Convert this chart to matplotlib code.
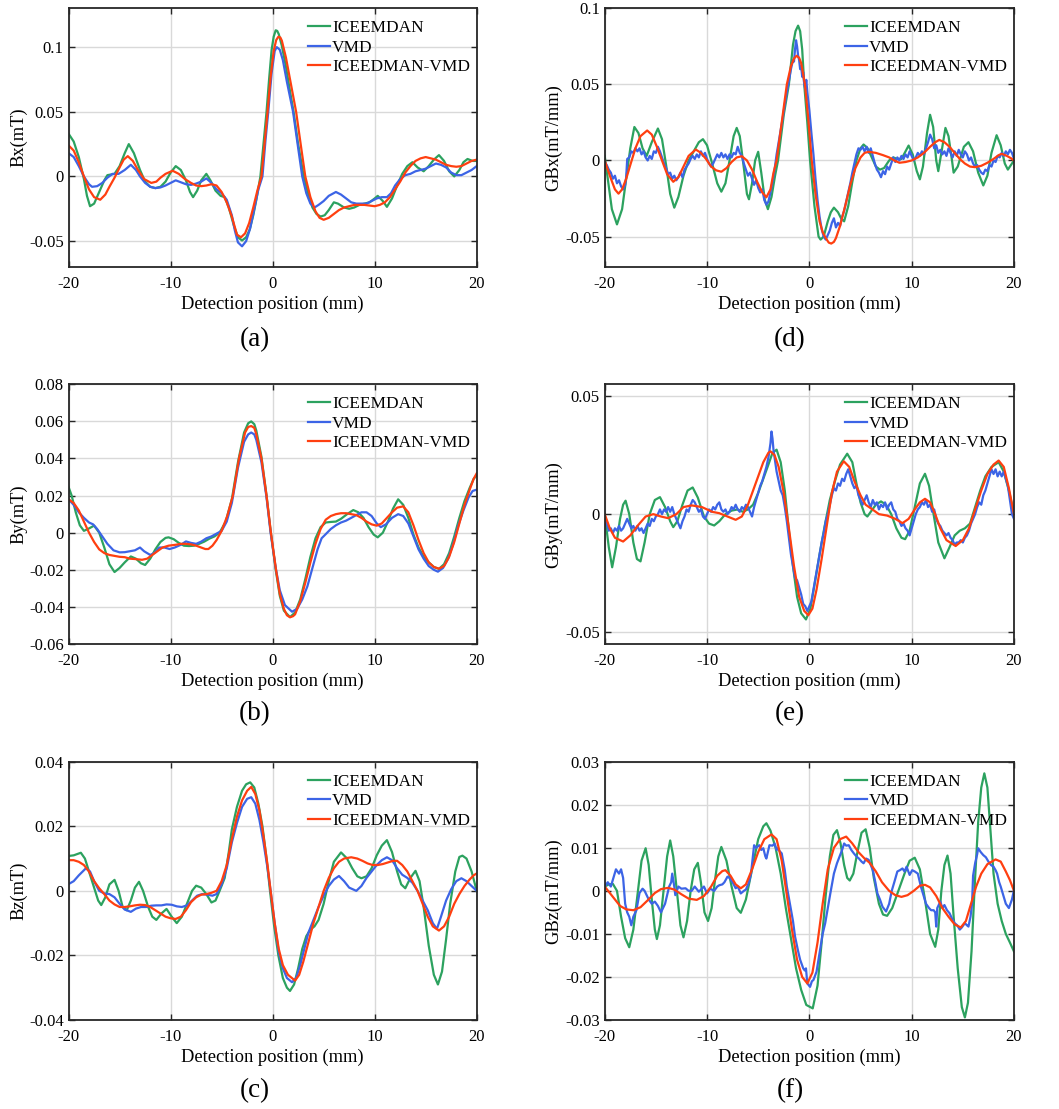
import matplotlib.pyplot as plt
import numpy as np
from matplotlib.ticker import FuncFormatter

plt.rcParams['font.family'] = ['Liberation Serif', 'DejaVu Serif']
plt.rcParams['axes.unicode_minus'] = False

names = ['ICEEMDAN', 'VMD', 'ICEEDMAN-VMD']
colors = ['#2ca25f', '#3c64e6', '#ff3f10']

# ---------------- (a) Bx ----------------
a_ice = [(-20, 0.033), (-19.5, 0.027), (-19, 0.015), (-18.5, -0.002), (-18.2, -0.015), (-17.9, -0.023),
         (-17.5, -0.021), (-17, -0.012), (-16.5, -0.003), (-16.2, 0.001), (-15.5, 0.002), (-15, 0.008),
         (-14.5, 0.018), (-14.1, 0.025), (-13.6, 0.018), (-13, 0.005), (-12.5, -0.004), (-12, -0.008),
         (-11.5, -0.009), (-11, -0.008), (-10.5, -0.004), (-10, 0.003), (-9.5, 0.008), (-9, 0.005),
         (-8.5, -0.003), (-8.1, -0.012), (-7.8, -0.016), (-7.4, -0.011), (-7, -0.003), (-6.5, 0.002),
         (-6.1, -0.003), (-5.6, -0.011), (-5.1, -0.015), (-4.7, -0.016), (-4.3, -0.024), (-3.8, -0.038),
         (-3.4, -0.047), (-3.0, -0.0495), (-2.6, -0.047), (-2.25, -0.041), (-1.9, -0.030), (-1.6, -0.018),
         (-1.2, 0.0), (-0.9, 0.025), (-0.6, 0.05), (-0.35, 0.075), (-0.1, 0.098), (0.1, 0.108),
         (0.3, 0.113), (0.45, 0.1125), (0.6, 0.110), (0.9, 0.101), (1.3, 0.085), (1.7, 0.066),
         (2.05, 0.050), (2.5, 0.025), (3.05, 0.0), (3.5, -0.014), (3.9, -0.024), (4.3, -0.029),
         (4.7, -0.031), (5.1, -0.030), (5.5, -0.026), (6.0, -0.020), (6.4, -0.021), (7.0, -0.024),
         (7.5, -0.025), (8.0, -0.024), (8.5, -0.022), (9.0, -0.021), (9.5, -0.020), (10.0, -0.017),
         (10.3, -0.015), (10.8, -0.019), (11.2, -0.0235), (11.7, -0.017), (12.2, -0.007), (12.7, 0.002),
         (13.2, 0.008), (13.7, 0.011), (14.2, 0.007), (14.8, 0.004), (15.3, 0.008), (15.8, 0.013),
         (16.3, 0.0165), (16.8, 0.012), (17.3, 0.004), (17.8, 0.0), (18.3, 0.005), (18.7, 0.011),
         (19.1, 0.0135), (19.6, 0.012), (20.0, 0.012)]
a_vmd = [(-20, 0.018), (-19.5, 0.015), (-19, 0.008), (-18.5, 0.0), (-18, -0.006), (-17.7, -0.008),
         (-17.2, -0.0075), (-16.7, -0.005), (-16.2, -0.001), (-15.7, 0.002), (-15.1, 0.002), (-14.5, 0.005),
         (-13.9, 0.009), (-13.4, 0.005), (-13, 0.0), (-12.5, -0.005), (-12, -0.008), (-11.5, -0.009),
         (-11, -0.0085), (-10.5, -0.007), (-10, -0.005), (-9.5, -0.003), (-9, -0.0045), (-8.5, -0.006),
         (-8, -0.0065), (-7.5, -0.0055), (-7, -0.004), (-6.5, -0.0015), (-6, -0.005), (-5.5, -0.010),
         (-5, -0.013), (-4.5, -0.018), (-4.0, -0.030), (-3.7, -0.042), (-3.4, -0.051), (-3.0, -0.054),
         (-2.6, -0.050), (-2.2, -0.040), (-1.8, -0.025), (-1.4, -0.010), (-1.0, 0.0), (-0.7, 0.028),
         (-0.43, 0.05), (-0.1, 0.080), (0.2, 0.097), (0.4, 0.1), (0.7, 0.098), (1.0, 0.090),
         (1.4, 0.073), (2.0, 0.05), (2.5, 0.022), (2.9, 0.0), (3.3, -0.013), (3.7, -0.021),
         (4.1, -0.024), (4.5, -0.022), (5.0, -0.019), (5.5, -0.015), (6.2, -0.012), (6.7, -0.014),
         (7.2, -0.017), (7.7, -0.020), (8.2, -0.021), (8.7, -0.021), (9.2, -0.021), (9.7, -0.019),
         (10.2, -0.017), (10.7, -0.016), (11.2, -0.016), (11.6, -0.013), (12.0, -0.007), (12.5, -0.002),
         (13.0, 0.001), (13.5, 0.002), (14.0, 0.004), (14.5, 0.005), (15.0, 0.006), (15.5, 0.008),
         (16.0, 0.010), (16.5, 0.009), (17.0, 0.007), (17.5, 0.003), (18.0, 0.001), (18.5, 0.001),
         (19.0, 0.003), (19.5, 0.005), (20.0, 0.008)]
a_mix = [(-20, 0.024), (-19.5, 0.020), (-19, 0.011), (-18.5, 0.0), (-18, -0.010), (-17.5, -0.016),
         (-16.9, -0.018), (-16.4, -0.014), (-16, -0.008), (-15.5, -0.001), (-15, 0.007), (-14.6, 0.013),
         (-14.2, 0.0157), (-13.7, 0.012), (-13.2, 0.005), (-12.6, -0.002), (-11.9, -0.005), (-11.4, -0.004),
         (-11, -0.001), (-10.5, 0.002), (-9.8, 0.0044), (-9.2, 0.002), (-8.6, -0.002), (-8, -0.005),
         (-7.5, -0.007), (-7, -0.0075), (-6.5, -0.007), (-6, -0.006), (-5.5, -0.007), (-5, -0.012),
         (-4.5, -0.020), (-4.0, -0.031), (-3.5, -0.045), (-3.1, -0.047), (-2.7, -0.044), (-2.3, -0.036),
         (-1.9, -0.024), (-1.5, -0.011), (-1.1, 0.0), (-0.8, 0.025), (-0.5, 0.05), (-0.2, 0.077),
         (0.1, 0.097), (0.35, 0.1055), (0.56, 0.108), (0.75, 0.1075), (0.9, 0.105), (1.3, 0.092),
         (1.8, 0.071), (2.3, 0.05), (2.8, 0.022), (3.2, 0.0), (3.7, -0.016), (4.2, -0.027),
         (4.6, -0.032), (5.0, -0.0335), (5.5, -0.032), (6.0, -0.029), (6.5, -0.026), (7.0, -0.024),
         (7.5, -0.023), (8.0, -0.022), (8.5, -0.022), (9.0, -0.022), (9.5, -0.0225), (10.0, -0.023),
         (10.5, -0.022), (11.0, -0.020), (11.5, -0.016), (12.0, -0.010), (12.5, -0.004), (13.0, 0.003),
         (13.5, 0.008), (14.0, 0.012), (14.5, 0.014), (15.0, 0.015), (15.5, 0.014), (16.0, 0.013),
         (16.5, 0.011), (17.0, 0.009), (17.5, 0.008), (18.0, 0.0075), (18.5, 0.008), (19.0, 0.010),
         (19.5, 0.012), (20.0, 0.013)]

# ---------------- (b) By ----------------
b_ice = [(-20, 0.0246), (-19.7, 0.020), (-19.3, 0.011), (-18.9, 0.004), (-18.5, 0.001), (-18.1, 0.002),
         (-17.5, 0.0038), (-17.0, 0.0), (-16.5, -0.008), (-16.0, -0.017), (-15.5, -0.0212), (-15.0, -0.019),
         (-14.5, -0.016), (-13.9, -0.0128), (-13.4, -0.014), (-12.9, -0.0165), (-12.5, -0.0174), (-12.0, -0.014),
         (-11.5, -0.009), (-11.0, -0.005), (-10.5, -0.0028), (-10.2, -0.0025), (-9.7, -0.0035), (-9.2, -0.0055),
         (-8.7, -0.007), (-8.2, -0.0072), (-7.7, -0.007), (-7.2, -0.006), (-6.7, -0.0048), (-6.2, -0.0032),
         (-5.7, -0.002), (-5.2, 0.0), (-4.6, 0.006), (-4.0, 0.018), (-3.4, 0.038), (-2.8, 0.054),
         (-2.4, 0.059), (-2.1, 0.060), (-1.8, 0.0585), (-1.6, 0.055), (-1.1, 0.041), (-0.6, 0.020),
         (-0.2, 0.001), (0.3, -0.020), (0.7, -0.034), (1.1, -0.042), (1.7, -0.0455), (2.2, -0.043),
         (2.7, -0.036), (3.2, -0.025), (3.7, -0.013), (4.2, -0.003), (4.7, 0.003), (5.2, 0.0055),
         (5.7, 0.0058), (6.2, 0.006), (6.7, 0.0075), (7.3, 0.010), (7.9, 0.0122), (8.4, 0.011),
         (8.9, 0.008), (9.4, 0.003), (9.9, -0.001), (10.3, -0.0025), (10.8, 0.0), (11.3, 0.006),
         (11.8, 0.013), (12.3, 0.018), (12.8, 0.015), (13.3, 0.008), (13.8, -0.001), (14.3, -0.008),
         (14.8, -0.013), (15.3, -0.016), (15.8, -0.0185), (16.3, -0.0195), (16.8, -0.017), (17.3, -0.011),
         (17.8, -0.002), (18.3, 0.008), (18.8, 0.017), (19.3, 0.024), (19.7, 0.029), (20.0, 0.031)]
b_vmd = [(-20, 0.018), (-19.5, 0.015), (-19, 0.011), (-18.5, 0.008), (-18, 0.0055), (-17.6, 0.0045),
         (-17.2, 0.002), (-16.7, -0.002), (-16.2, -0.006), (-15.6, -0.0095), (-15.0, -0.0106), (-14.5, -0.0105),
         (-14.0, -0.010), (-13.5, -0.0095), (-13.0, -0.008), (-12.6, -0.010), (-12.0, -0.012), (-11.6, -0.011),
         (-11.1, -0.008), (-10.6, -0.008), (-10.1, -0.0088), (-9.6, -0.008), (-9.0, -0.0065), (-8.5, -0.0047),
         (-8.0, -0.0055), (-7.5, -0.006), (-7.0, -0.0048), (-6.5, -0.003), (-6.0, -0.002), (-5.5, -0.0005),
         (-5.0, 0.001), (-4.5, 0.006), (-4.0, 0.016), (-3.4, 0.035), (-2.8, 0.049), (-2.4, 0.053),
         (-2.1, 0.054), (-1.8, 0.053), (-1.6, 0.050), (-1.1, 0.038), (-0.6, 0.019), (-0.2, 0.0),
         (0.3, -0.019), (0.7, -0.031), (1.2, -0.039), (1.9, -0.0426), (2.4, -0.041), (2.9, -0.036),
         (3.4, -0.029), (3.9, -0.019), (4.4, -0.009), (4.8, -0.003), (5.2, -0.0008), (5.7, 0.002),
         (6.2, 0.004), (6.7, 0.0055), (7.2, 0.0065), (7.7, 0.008), (8.2, 0.0095), (8.7, 0.011),
         (9.2, 0.011), (9.7, 0.009), (10.2, 0.005), (10.6, 0.003), (11.1, 0.0045), (11.7, 0.008),
         (12.3, 0.010), (12.8, 0.009), (13.3, 0.005), (13.8, -0.002), (14.3, -0.009), (14.8, -0.014),
         (15.3, -0.018), (15.8, -0.020), (16.2, -0.021), (16.7, -0.019), (17.2, -0.014), (17.7, -0.006),
         (18.2, 0.004), (18.7, 0.012), (19.2, 0.019), (19.6, 0.0225), (20.0, 0.0232)]
b_mix = [(-20, 0.018), (-19.5, 0.016), (-19, 0.012), (-18.5, 0.006), (-18, 0.0), (-17.5, -0.005),
         (-17, -0.009), (-16.5, -0.011), (-16, -0.012), (-15.5, -0.0125), (-15, -0.013), (-14.5, -0.0132),
         (-14, -0.014), (-13.5, -0.0142), (-12.8, -0.0146), (-12.3, -0.014), (-11.8, -0.012), (-11.3, -0.010),
         (-10.8, -0.008), (-10.2, -0.007), (-9.5, -0.0065), (-9, -0.006), (-8.5, -0.006), (-8, -0.0063),
         (-7.5, -0.007), (-7, -0.008), (-6.6, -0.0088), (-6.3, -0.0088), (-5.9, -0.007), (-5.5, -0.004),
         (-5.0, 0.001), (-4.45, 0.009), (-3.9, 0.020), (-3.3, 0.040), (-2.7, 0.054), (-2.4, 0.057),
         (-2.1, 0.0575), (-1.8, 0.0565), (-1.6, 0.053), (-1.1, 0.040), (-0.6, 0.020), (-0.17, 0.0),
         (0.33, -0.020), (0.7, -0.033), (1.1, -0.041), (1.4, -0.0445), (1.7, -0.0456), (2.0, -0.045),
         (2.2, -0.044), (2.7, -0.037), (3.2, -0.027), (3.7, -0.016), (4.2, -0.006), (4.7, 0.002),
         (5.2, 0.007), (5.7, 0.009), (6.2, 0.010), (6.7, 0.0105), (7.2, 0.0105), (7.7, 0.010),
         (8.2, 0.0095), (8.7, 0.008), (9.2, 0.006), (9.7, 0.0045), (10.2, 0.0038), (10.7, 0.005),
         (11.2, 0.008), (11.7, 0.011), (12.2, 0.0135), (12.8, 0.0142), (13.3, 0.011), (13.8, 0.004),
         (14.3, -0.004), (14.8, -0.011), (15.3, -0.016), (15.8, -0.0185), (16.3, -0.0194), (16.8, -0.018),
         (17.3, -0.013), (17.8, -0.005), (18.3, 0.005), (18.8, 0.015), (19.3, 0.023), (19.7, 0.029),
         (20.0, 0.032)]

# ---------------- (c) Bz ----------------
c_ice = [(-20, 0.0108), (-19.5, 0.011), (-18.8, 0.0118), (-18.4, 0.010), (-18.0, 0.006), (-17.5, 0.001),
         (-17.1, -0.003), (-16.8, -0.0044), (-16.4, -0.002), (-16.0, 0.002), (-15.5, 0.0034), (-15.1, 0.0),
         (-14.7, -0.005), (-14.3, -0.006), (-13.9, -0.003), (-13.5, 0.001), (-13.1, 0.0028), (-12.7, 0.0),
         (-12.2, -0.005), (-11.8, -0.008), (-11.4, -0.009), (-10.9, -0.007), (-10.4, -0.0056), (-9.9, -0.008),
         (-9.4, -0.010), (-8.9, -0.008), (-8.4, -0.004), (-7.9, 0.0), (-7.5, 0.0016), (-7.0, 0.001),
         (-6.5, -0.001), (-6.0, -0.0036), (-5.6, -0.003), (-5.2, 0.0), (-4.7, 0.004), (-4.3, 0.012),
         (-4.0, 0.019), (-3.5, 0.026), (-3.0, 0.031), (-2.6, 0.033), (-2.2, 0.0336), (-1.8, 0.032),
         (-1.4, 0.027), (-1.0, 0.020), (-0.6, 0.010), (-0.26, 0.0), (0.15, -0.011), (0.56, -0.020),
         (1.0, -0.027), (1.4, -0.030), (1.7, -0.031), (2.1, -0.029), (2.5, -0.024), (2.9, -0.018),
         (3.3, -0.014), (3.7, -0.012), (4.1, -0.011), (4.5, -0.009), (5.0, -0.004), (5.5, 0.003),
         (6.0, 0.009), (6.7, 0.0119), (7.3, 0.010), (7.8, 0.007), (8.3, 0.0045), (8.7, 0.0039),
         (9.2, 0.0045), (9.7, 0.007), (10.2, 0.011), (10.7, 0.014), (11.2, 0.0157), (11.7, 0.012),
         (12.2, 0.006), (12.6, 0.002), (13.0, 0.0008), (13.5, 0.004), (14.0, 0.0062), (14.4, 0.003),
         (14.8, -0.005), (15.3, -0.017), (15.8, -0.026), (16.2, -0.029), (16.6, -0.025), (17.0, -0.015),
         (17.4, -0.004), (17.9, 0.006), (18.3, 0.0105), (18.6, 0.0109), (19.0, 0.010), (19.5, 0.006),
         (20.0, 0.0)]
c_vmd = [(-20, 0.0021), (-19.5, 0.003), (-19.0, 0.0048), (-18.3, 0.007), (-17.9, 0.006), (-17.5, 0.003),
         (-17.0, 0.0), (-16.5, -0.0008), (-16.0, -0.001), (-15.5, -0.002), (-15.0, -0.004), (-14.5, -0.0058),
         (-13.9, -0.0065), (-13.4, -0.0055), (-12.9, -0.005), (-12.4, -0.005), (-11.9, -0.0046), (-11.4, -0.0045),
         (-10.9, -0.0045), (-10.4, -0.0042), (-9.9, -0.0043), (-9.4, -0.0048), (-8.9, -0.005), (-8.4, -0.0045),
         (-7.9, -0.003), (-7.4, -0.0015), (-6.9, -0.001), (-6.4, -0.0012), (-5.9, -0.0015), (-5.5, -0.001),
         (-5.0, 0.002), (-4.5, 0.007), (-4.0, 0.015), (-3.5, 0.021), (-3.0, 0.026), (-2.5, 0.0285),
         (-2.1, 0.029), (-1.7, 0.027), (-1.3, 0.022), (-0.9, 0.015), (-0.5, 0.007), (-0.2, 0.0),
         (0.2, -0.010), (0.6, -0.019), (1.0, -0.024), (1.4, -0.027), (1.9, -0.0283), (2.3, -0.027),
         (2.7, -0.023), (3.1, -0.018), (3.5, -0.013), (4.0, -0.009), (4.5, -0.005), (5.0, -0.0015),
         (5.5, 0.0015), (6.0, 0.0035), (6.5, 0.0046), (7.0, 0.003), (7.5, 0.001), (8.2, 0.0),
         (8.7, 0.0015), (9.2, 0.004), (9.7, 0.006), (10.2, 0.008), (10.7, 0.0095), (11.2, 0.0104),
         (11.7, 0.0095), (12.2, 0.007), (12.7, 0.005), (13.2, 0.004), (13.7, 0.0025), (14.2, 0.0),
         (14.7, -0.003), (15.2, -0.006), (15.7, -0.010), (16.1, -0.0118), (16.5, -0.008), (17.0, -0.003),
         (17.5, 0.0005), (18.0, 0.003), (18.5, 0.0039), (19.0, 0.003), (19.5, 0.0015), (20.0, 0.0)]
c_mix = [(-20, 0.0095), (-19.5, 0.0095), (-19.0, 0.009), (-18.5, 0.008), (-18.0, 0.006), (-17.5, 0.003),
         (-17.0, 0.0008), (-16.5, -0.001), (-16.0, -0.003), (-15.5, -0.0042), (-15.0, -0.005), (-14.5, -0.005),
         (-14.0, -0.0048), (-13.5, -0.0045), (-13.0, -0.0043), (-12.5, -0.0044), (-12.0, -0.005), (-11.5, -0.006),
         (-11.0, -0.007), (-10.5, -0.008), (-10.0, -0.0085), (-9.5, -0.0087), (-9.0, -0.008), (-8.5, -0.006),
         (-8.0, -0.0035), (-7.5, -0.002), (-7.0, -0.0012), (-6.5, -0.001), (-6.0, -0.0006), (-5.5, 0.0),
         (-5.0, 0.003), (-4.5, 0.008), (-4.0, 0.016), (-3.5, 0.023), (-3.0, 0.028), (-2.5, 0.031),
         (-2.1, 0.0322), (-1.7, 0.030), (-1.3, 0.025), (-0.9, 0.017), (-0.5, 0.008), (-0.2, 0.0),
         (0.2, -0.010), (0.6, -0.018), (1.0, -0.023), (1.5, -0.026), (2.2, -0.0278), (2.6, -0.026),
         (3.0, -0.022), (3.5, -0.016), (4.0, -0.010), (4.5, -0.005), (5.0, 0.0), (5.5, 0.004),
         (6.0, 0.007), (6.5, 0.009), (7.0, 0.010), (7.7, 0.0104), (8.3, 0.010), (8.8, 0.0093),
         (9.3, 0.0085), (9.8, 0.008), (10.3, 0.008), (10.8, 0.0083), (11.3, 0.0088), (11.8, 0.0093),
         (12.2, 0.0093), (12.7, 0.008), (13.2, 0.006), (13.7, 0.003), (14.2, 0.0), (14.7, -0.004),
         (15.2, -0.008), (15.7, -0.011), (16.3, -0.0123), (16.8, -0.011), (17.3, -0.008), (17.8, -0.004),
         (18.3, -0.001), (18.8, 0.0015), (19.3, 0.0035), (19.7, 0.0048), (20.0, 0.0054)]

# ---------------- (d) GBx ----------------
d_ice = [(-20, 0.003), (-19.7, -0.012), (-19.3, -0.032), (-18.8, -0.042), (-18.3, -0.032), (-17.9, -0.012),
         (-17.5, 0.008), (-17.1, 0.022), (-16.7, 0.018), (-16.3, 0.008), (-15.9, 0.003), (-15.4, 0.012),
         (-14.8, 0.021), (-14.4, 0.014), (-14.0, -0.003), (-13.6, -0.022), (-13.2, -0.031), (-12.8, -0.024),
         (-12.3, -0.010), (-11.8, 0.0), (-11.3, 0.006), (-10.8, 0.012), (-10.4, 0.014), (-10.0, 0.010),
         (-9.5, -0.002), (-9.0, -0.015), (-8.6, -0.0205), (-8.2, -0.015), (-7.8, 0.0), (-7.4, 0.016),
         (-7.1, 0.0214), (-6.8, 0.016), (-6.4, -0.005), (-6.1, -0.022), (-5.9, -0.0255), (-5.6, -0.015),
         (-5.3, 0.0), (-5.0, 0.0057), (-4.7, -0.008), (-4.35, -0.026), (-4.05, -0.032), (-3.7, -0.024),
         (-3.35, -0.010), (-3.06, 0.0), (-2.5, 0.030), (-2.0, 0.050), (-1.6, 0.076), (-1.35, 0.085),
         (-1.1, 0.0886), (-0.9, 0.085), (-0.7, 0.073), (-0.5, 0.050), (-0.2, 0.025), (0.07, 0.0),
         (0.5, -0.030), (0.9, -0.050), (1.1, -0.052), (1.4, -0.050), (1.8, -0.040), (2.1, -0.034),
         (2.4, -0.031), (2.8, -0.034), (3.1, -0.038), (3.4, -0.040), (3.8, -0.030), (4.2, -0.014),
         (4.6, 0.0), (5.0, 0.008), (5.3, 0.0105), (5.7, 0.008), (6.1, 0.002), (6.5, -0.004),
         (6.9, -0.006), (7.3, -0.005), (7.8, 0.0), (8.2, 0.002), (8.6, 0.001), (9.0, 0.001),
         (9.4, 0.006), (9.7, 0.0098), (10.1, 0.004), (10.5, -0.007), (10.8, -0.0124), (11.1, -0.004),
         (11.5, 0.018), (11.8, 0.030), (12.1, 0.022), (12.4, 0.0), (12.6, -0.007), (12.9, 0.005),
         (13.3, 0.0214), (13.6, 0.016), (13.9, 0.002), (14.1, -0.008), (14.5, -0.004), (15.1, 0.009),
         (15.55, 0.012), (16.0, 0.006), (16.5, -0.008), (17.0, -0.0164), (17.4, -0.010), (17.8, 0.005),
         (18.3, 0.0166), (18.7, 0.010), (19.1, -0.002), (19.4, -0.006), (19.7, -0.003), (20.0, 0.0)]
d_vmd = [(-20, -0.001), (-19.8, -0.003), (-19.6, -0.006), (-19.4, -0.008), (-19.2, -0.012), (-19.0, -0.010),
         (-18.8, -0.015), (-18.6, -0.013), (-18.4, -0.017), (-18.2, -0.019), (-18.0, -0.016), (-17.9, -0.011),
         (-17.8, 0.001), (-17.6, 0.002), (-17.4, 0.006), (-17.2, 0.005), (-17.0, 0.008), (-16.8, 0.006),
         (-16.6, 0.008), (-16.4, 0.004), (-16.2, 0.006), (-16.0, 0.002), (-15.8, 0.0), (-15.6, 0.003),
         (-15.4, 0.001), (-15.2, 0.006), (-15.0, 0.005), (-14.8, 0.009), (-14.6, 0.006), (-14.4, 0.002),
         (-14.2, -0.002), (-14.0, -0.005), (-13.8, -0.009), (-13.6, -0.008), (-13.4, -0.012), (-13.2, -0.010),
         (-13.0, -0.013), (-12.8, -0.011), (-12.6, -0.008), (-12.4, -0.011), (-12.2, -0.006), (-12.0, -0.004),
         (-11.8, -0.002), (-11.6, 0.001), (-11.4, 0.003), (-11.2, 0.001), (-11.0, 0.004), (-10.8, 0.002),
         (-10.6, 0.006), (-10.4, 0.003), (-10.2, 0.005), (-10.0, 0.001), (-9.8, -0.002), (-9.6, -0.004),
         (-9.4, -0.002), (-9.2, 0.001), (-9.0, 0.004), (-8.8, 0.002), (-8.6, 0.005), (-8.4, 0.002),
         (-8.2, 0.004), (-8.0, 0.001), (-7.8, 0.004), (-7.6, 0.002), (-7.4, 0.005), (-7.2, 0.004),
         (-7.0, 0.009), (-6.8, 0.005), (-6.6, 0.003), (-6.4, -0.002), (-6.2, -0.006), (-6.0, -0.010),
         (-5.8, -0.008), (-5.6, -0.012), (-5.4, -0.016), (-5.2, -0.013), (-5.0, -0.018), (-4.8, -0.021),
         (-4.6, -0.019), (-4.4, -0.026), (-4.2, -0.029), (-4.0, -0.027), (-3.8, -0.021), (-3.6, -0.014),
         (-3.4, -0.006), (-3.2, 0.004), (-3.0, 0.012), (-2.8, 0.020), (-2.6, 0.028), (-2.4, 0.037),
         (-2.2, 0.045), (-2.0, 0.052), (-1.8, 0.060), (-1.6, 0.066), (-1.5, 0.065), (-1.4, 0.073),
         (-1.3, 0.079), (-1.2, 0.075), (-1.1, 0.069), (-1.0, 0.066), (-0.9, 0.060), (-0.8, 0.062),
         (-0.7, 0.055), (-0.6, 0.058), (-0.5, 0.050), (-0.4, 0.047), (-0.3, 0.053), (-0.2, 0.045),
         (0.0, 0.033), (0.2, 0.018), (0.4, 0.004), (0.6, -0.012), (0.8, -0.026), (1.0, -0.037),
         (1.2, -0.045), (1.4, -0.050), (1.6, -0.052), (1.8, -0.049), (2.0, -0.046), (2.2, -0.041),
         (2.4, -0.038), (2.6, -0.044), (2.8, -0.041), (3.0, -0.043), (3.2, -0.037), (3.4, -0.033),
         (3.6, -0.027), (3.8, -0.021), (4.0, -0.015), (4.2, -0.008), (4.4, -0.002), (4.6, 0.004),
         (4.8, 0.008), (5.0, 0.007), (5.2, 0.009), (5.4, 0.006), (5.6, 0.009), (5.8, 0.005),
         (6.0, 0.008), (6.2, 0.003), (6.4, -0.002), (6.6, -0.006), (6.8, -0.008), (7.0, -0.011),
         (7.2, -0.007), (7.4, -0.009), (7.6, -0.004), (7.8, -0.006), (8.0, -0.002), (8.2, 0.002),
         (8.4, -0.001), (8.6, 0.002), (8.8, 0.0), (9.0, 0.003), (9.2, 0.001), (9.4, 0.004),
         (9.6, 0.002), (9.8, 0.006), (10.0, 0.003), (10.2, 0.0), (10.4, 0.002), (10.6, 0.005),
         (10.8, 0.003), (11.0, 0.006), (11.2, 0.004), (11.4, 0.008), (11.6, 0.012), (11.8, 0.017),
         (12.0, 0.014), (12.2, 0.008), (12.4, 0.010), (12.6, 0.005), (12.8, 0.007), (13.0, 0.004),
         (13.2, 0.006), (13.4, 0.003), (13.6, 0.008), (13.8, 0.005), (14.0, 0.002), (14.2, 0.006),
         (14.4, 0.003), (14.6, 0.007), (14.8, 0.004), (15.0, 0.002), (15.2, 0.006), (15.4, 0.004),
         (15.6, 0.0), (15.8, 0.002), (16.0, -0.002), (16.2, -0.004), (16.4, -0.003), (16.6, -0.006),
         (16.8, -0.008), (17.0, -0.009), (17.2, -0.006), (17.4, -0.007), (17.6, -0.003), (17.8, -0.004),
         (18.0, 0.0), (18.2, -0.001), (18.4, 0.003), (18.6, 0.002), (18.8, 0.005), (19.0, 0.003),
         (19.2, 0.006), (19.4, 0.004), (19.6, 0.007), (19.8, 0.005), (20.0, 0.001)]
d_mix = [(-20, 0.0), (-19.5, -0.010), (-19.0, -0.019), (-18.65, -0.0218), (-18.3, -0.019), (-17.9, -0.012),
         (-17.5, -0.003), (-17.0, 0.008), (-16.5, 0.016), (-15.85, 0.0197), (-15.4, 0.017), (-14.9, 0.009),
         (-14.4, 0.0), (-13.9, -0.009), (-13.3, -0.014), (-12.8, -0.011), (-12.3, -0.004), (-11.8, 0.003),
         (-11.1, 0.0072), (-10.6, 0.005), (-10.1, 0.001), (-9.6, -0.004), (-9.1, -0.0065), (-8.6, -0.0074),
         (-8.1, -0.005), (-7.6, -0.001), (-7.1, 0.002), (-6.6, 0.0028), (-6.1, 0.0), (-5.6, -0.006),
         (-5.1, -0.014), (-4.6, -0.021), (-4.2, -0.0242), (-3.8, -0.019), (-3.5, -0.008), (-3.2, 0.0),
         (-2.9, 0.015), (-2.6, 0.030), (-2.2, 0.050), (-1.8, 0.062), (-1.5, 0.067), (-1.25, 0.0688),
         (-1.0, 0.0675), (-0.8, 0.064), (-0.43, 0.050), (-0.1, 0.027), (0.23, 0.0), (0.6, -0.022),
         (1.0, -0.040), (1.3, -0.047), (1.6, -0.051), (1.9, -0.054), (2.14, -0.0546), (2.4, -0.0535),
         (2.6, -0.051), (3.0, -0.043), (3.5, -0.030), (4.0, -0.016), (4.5, -0.005), (5.0, 0.002),
         (5.4, 0.005), (5.8, 0.0057), (6.5, 0.005), (7.2, 0.0035), (7.8, 0.002), (8.3, 0.0),
         (8.8, -0.0015), (9.4, -0.001), (10.0, 0.0), (10.6, 0.002), (11.2, 0.005), (11.8, 0.009),
         (12.3, 0.012), (12.7, 0.0135), (13.2, 0.012), (13.7, 0.009), (14.2, 0.005), (14.7, 0.001),
         (15.2, -0.002), (15.7, -0.004), (16.2, -0.0044), (16.8, -0.0035), (17.4, -0.0015), (18.0, 0.001),
         (18.5, 0.0035), (18.8, 0.0044), (19.3, 0.003), (19.7, 0.0015), (20.0, 0.0)]

# ---------------- (e) GBy ----------------
e_ice = [(-20, 0.0), (-19.6, -0.014), (-19.27, -0.0225), (-18.9, -0.014), (-18.5, -0.002), (-18.2, 0.004),
         (-17.96, 0.0057), (-17.6, 0.0), (-17.2, -0.012), (-16.85, -0.019), (-16.5, -0.020), (-16.1, -0.012),
         (-15.6, 0.0), (-15.1, 0.006), (-14.6, 0.0072), (-14.1, 0.003), (-13.6, -0.003), (-13.3, -0.0055),
         (-12.9, -0.003), (-12.4, 0.004), (-11.9, 0.010), (-11.4, 0.0113), (-10.9, 0.007), (-10.3, -0.001),
         (-9.8, -0.004), (-9.3, -0.0048), (-8.8, -0.003), (-8.2, 0.0), (-7.6, 0.0015), (-7.0, 0.002),
         (-6.5, 0.001), (-6.0, 0.002), (-5.5, 0.004), (-5.0, 0.009), (-4.5, 0.015), (-4.0, 0.021),
         (-3.6, 0.026), (-3.2, 0.0273), (-2.8, 0.022), (-2.4, 0.010), (-2.0, -0.007), (-1.6, -0.022),
         (-1.2, -0.035), (-0.8, -0.042), (-0.33, -0.0446), (0.1, -0.040), (0.5, -0.030), (1.0, -0.017),
         (1.5, -0.005), (2.0, 0.006), (2.5, 0.014), (3.0, 0.021), (3.7, 0.0256), (4.2, 0.022),
         (4.6, 0.013), (5.0, 0.005), (5.4, 0.0), (5.67, -0.001), (6.0, 0.001), (6.5, 0.004),
         (7.0, 0.0054), (7.5, 0.004), (8.0, 0.0), (8.5, -0.006), (9.0, -0.010), (9.36, -0.0106),
         (9.8, -0.007), (10.3, 0.003), (10.8, 0.013), (11.3, 0.0171), (11.7, 0.012), (12.1, 0.001),
         (12.6, -0.012), (13.2, -0.0187), (13.7, -0.014), (14.2, -0.009), (14.7, -0.007), (15.2, -0.006),
         (15.7, -0.004), (16.2, 0.003), (16.7, 0.010), (17.2, 0.016), (17.8, 0.020), (18.5, 0.022),
         (19.0, 0.018), (19.5, 0.010), (20.0, 0.0)]
e_vmd = [(-20, -0.001), (-19.8, -0.004), (-19.6, -0.007), (-19.4, -0.006), (-19.2, -0.008), (-19.0, -0.006),
         (-18.8, -0.007), (-18.6, -0.005), (-18.4, -0.007), (-18.2, -0.006), (-18.0, -0.004), (-17.8, -0.002),
         (-17.6, -0.004), (-17.4, -0.006), (-17.2, -0.005), (-17.0, -0.007), (-16.8, -0.005), (-16.6, -0.007),
         (-16.4, -0.006), (-16.2, -0.008), (-16.0, -0.006), (-15.8, -0.004), (-15.6, -0.005), (-15.4, -0.002),
         (-15.2, -0.003), (-15.0, -0.001), (-14.8, 0.0), (-14.6, 0.002), (-14.4, 0.0), (-14.2, 0.002),
         (-14.0, 0.001), (-13.8, 0.003), (-13.6, 0.001), (-13.4, 0.003), (-13.2, 0.0), (-13.0, -0.002),
         (-12.8, -0.004), (-12.6, -0.006), (-12.4, -0.003), (-12.2, -0.001), (-12.0, 0.002), (-11.8, 0.001),
         (-11.6, 0.004), (-11.4, 0.006), (-11.2, 0.005), (-11.0, 0.003), (-10.8, 0.001), (-10.6, 0.002),
         (-10.4, -0.001), (-10.2, -0.002), (-10.0, 0.0), (-9.8, 0.002), (-9.6, 0.001), (-9.4, 0.003),
         (-9.2, 0.002), (-9.0, 0.004), (-8.8, 0.005), (-8.6, 0.002), (-8.4, 0.001), (-8.2, 0.002),
         (-8.0, 0.0), (-7.8, 0.001), (-7.6, 0.003), (-7.4, 0.002), (-7.2, 0.004), (-7.0, 0.002),
         (-6.8, 0.001), (-6.6, 0.003), (-6.4, 0.002), (-6.2, 0.004), (-6.0, 0.003), (-5.8, 0.001),
         (-5.6, -0.001), (-5.4, 0.003), (-5.2, 0.006), (-5.0, 0.009), (-4.8, 0.012), (-4.6, 0.014),
         (-4.4, 0.017), (-4.2, 0.020), (-4.0, 0.024), (-3.8, 0.030), (-3.7, 0.035), (-3.6, 0.032),
         (-3.5, 0.027), (-3.4, 0.024), (-3.2, 0.018), (-3.0, 0.014), (-2.8, 0.010), (-2.6, 0.008),
         (-2.4, 0.003), (-2.2, -0.003), (-2.0, -0.010), (-1.8, -0.017), (-1.6, -0.022), (-1.4, -0.027),
         (-1.2, -0.028), (-1.0, -0.031), (-0.8, -0.034), (-0.6, -0.038), (-0.4, -0.039), (-0.2, -0.041),
         (0.0, -0.039), (0.2, -0.037), (0.4, -0.032), (0.6, -0.027), (0.8, -0.022), (1.0, -0.017),
         (1.2, -0.012), (1.4, -0.008), (1.6, -0.003), (1.8, 0.0), (2.0, 0.004), (2.2, 0.008),
         (2.4, 0.011), (2.6, 0.010), (2.8, 0.013), (3.0, 0.012), (3.2, 0.015), (3.4, 0.014),
         (3.6, 0.017), (3.8, 0.019), (4.0, 0.016), (4.2, 0.013), (4.4, 0.011), (4.6, 0.012),
         (4.8, 0.008), (5.0, 0.006), (5.2, 0.004), (5.4, 0.006), (5.6, 0.008), (5.8, 0.005),
         (6.0, 0.003), (6.2, 0.006), (6.4, 0.004), (6.6, 0.005), (6.8, 0.002), (7.0, 0.004),
         (7.2, 0.003), (7.4, 0.005), (7.6, 0.002), (7.8, 0.004), (8.0, 0.005), (8.2, 0.002),
         (8.4, 0.001), (8.6, -0.002), (8.8, -0.003), (9.0, -0.005), (9.2, -0.004), (9.4, -0.006),
         (9.6, -0.007), (9.8, -0.009), (10.0, -0.006), (10.2, -0.003), (10.4, 0.0), (10.6, 0.002),
         (10.8, 0.003), (11.0, 0.005), (11.2, 0.004), (11.4, 0.006), (11.6, 0.003), (11.8, 0.004),
         (12.0, 0.001), (12.2, 0.002), (12.4, -0.002), (12.6, -0.004), (12.8, -0.005), (13.0, -0.007),
         (13.2, -0.008), (13.4, -0.009), (13.6, -0.008), (13.8, -0.010), (14.0, -0.011), (14.2, -0.013),
         (14.4, -0.012), (14.6, -0.012), (14.8, -0.011), (15.0, -0.012), (15.2, -0.010), (15.4, -0.009),
         (15.6, -0.007), (15.8, -0.004), (16.0, -0.002), (16.2, 0.0), (16.4, 0.003), (16.6, 0.005),
         (16.8, 0.004), (17.0, 0.008), (17.2, 0.010), (17.4, 0.013), (17.6, 0.016), (17.8, 0.019),
         (18.0, 0.017), (18.2, 0.019), (18.4, 0.016), (18.6, 0.018), (18.8, 0.016), (19.0, 0.018),
         (19.2, 0.015), (19.4, 0.012), (19.6, 0.006), (19.8, 0.0), (20.0, -0.002)]
e_mix = [(-20, 0.0), (-19.5, -0.006), (-19.0, -0.010), (-18.2, -0.0116), (-17.5, -0.009), (-16.8, -0.005),
         (-16.0, -0.001), (-15.25, 0.0), (-14.5, -0.001), (-13.8, -0.0017), (-13.0, 0.0), (-12.3, 0.003),
         (-11.5, 0.0037), (-10.5, 0.003), (-9.5, 0.001), (-8.8, 0.0004), (-8.0, -0.001), (-7.2, -0.0024),
         (-6.6, -0.001), (-6.0, 0.004), (-5.5, 0.010), (-5.0, 0.016), (-4.5, 0.022), (-4.0, 0.026),
         (-3.8, 0.0266), (-3.4, 0.025), (-3.0, 0.020), (-2.5, 0.009), (-2.0, -0.006), (-1.5, -0.022),
         (-1.0, -0.035), (-0.5, -0.041), (-0.1, -0.0428), (0.3, -0.040), (0.7, -0.032), (1.2, -0.019),
         (1.7, -0.005), (2.2, 0.009), (2.7, 0.018), (3.36, 0.0224), (3.9, 0.020), (4.4, 0.014),
         (5.0, 0.008), (5.5, 0.004), (6.0, 0.0025), (6.8, 0.0), (7.6, -0.0006), (8.4, -0.002),
         (9.1, -0.0038), (9.7, -0.002), (10.3, 0.002), (10.8, 0.005), (11.3, 0.0065), (11.8, 0.005),
         (12.3, 0.0), (12.8, -0.006), (13.4, -0.011), (14.3, -0.0135), (15.0, -0.011), (15.6, -0.006),
         (16.2, 0.002), (16.8, 0.010), (17.4, 0.017), (18.0, 0.021), (18.5, 0.0227), (19.0, 0.020),
         (19.5, 0.011), (20.0, 0.0)]

# ---------------- (f) GBz ----------------
f_ice = [(-20, 0.001), (-19.6, 0.0015), (-19.2, 0.0016), (-18.8, 0.0), (-18.4, -0.006), (-18.0, -0.011),
         (-17.6, -0.0131), (-17.2, -0.009), (-16.8, -0.001), (-16.4, 0.007), (-16.0, 0.0099), (-15.7, 0.006),
         (-15.4, -0.002), (-15.1, -0.009), (-14.9, -0.0112), (-14.6, -0.008), (-14.25, 0.0), (-13.9, 0.008),
         (-13.6, 0.0117), (-13.3, 0.008), (-12.95, 0.0), (-12.6, -0.008), (-12.3, -0.0108), (-11.95, -0.007),
         (-11.6, 0.0), (-11.25, 0.005), (-10.9, 0.0065), (-10.6, 0.002), (-10.25, -0.005), (-9.9, -0.007),
         (-9.55, -0.004), (-9.25, 0.002), (-8.9, 0.008), (-8.6, 0.0102), (-8.1, 0.007), (-7.6, 0.001),
         (-7.1, -0.004), (-6.7, -0.0051), (-6.2, -0.002), (-5.6, 0.005), (-5.0, 0.012), (-4.5, 0.015),
         (-4.2, 0.0157), (-3.8, 0.014), (-3.3, 0.010), (-2.8, 0.004), (-2.3, -0.004), (-1.8, -0.011),
         (-1.3, -0.018), (-0.8, -0.023), (-0.3, -0.0265), (0.33, -0.0273), (0.8, -0.022), (1.2, -0.012),
         (1.6, -0.001), (2.0, 0.008), (2.35, 0.013), (2.7, 0.0141), (3.05, 0.011), (3.4, 0.006),
         (3.7, 0.003), (3.95, 0.0024), (4.3, 0.004), (4.7, 0.009), (5.1, 0.0135), (5.5, 0.0143),
         (5.9, 0.010), (6.3, 0.003), (6.8, -0.003), (7.2, -0.0055), (7.6, -0.0058), (8.1, -0.004),
         (8.7, 0.0), (9.3, 0.004), (9.8, 0.007), (10.3, 0.0077), (10.8, 0.005), (11.3, -0.002),
         (11.8, -0.010), (12.3, -0.013), (12.6, -0.009), (12.9, 0.0), (13.2, 0.006), (13.5, 0.0082),
         (13.8, 0.004), (14.1, -0.006), (14.5, -0.018), (14.9, -0.027), (15.2, -0.0294), (15.5, -0.026),
         (15.85, -0.014), (16.2, 0.003), (16.5, 0.016), (16.8, 0.024), (17.1, 0.0273), (17.4, 0.024),
         (17.7, 0.014), (18.0, 0.004), (18.4, -0.003), (18.8, -0.007), (19.2, -0.010), (19.6, -0.012),
         (20.0, -0.0141)]
f_vmd = [(-20, 0.001), (-19.7, 0.002), (-19.4, 0.001), (-18.9, 0.005), (-18.6, 0.004), (-18.4, 0.005),
         (-18.2, 0.003), (-18.0, -0.003), (-17.8, -0.005), (-17.6, -0.006), (-17.4, -0.008), (-17.2, -0.006),
         (-16.9, -0.0045), (-16.6, -0.0005), (-16.3, 0.0005), (-16.1, 0.0), (-15.9, -0.001), (-15.7, -0.002),
         (-15.4, -0.003), (-15.1, -0.0025), (-14.8, -0.0035), (-14.5, -0.005), (-14.3, -0.004), (-14.1, -0.003),
         (-13.9, -0.001), (-13.7, 0.001), (-13.5, 0.002), (-13.4, 0.004), (-13.2, 0.001), (-13.1, -0.001),
         (-12.8, 0.001), (-12.5, 0.0005), (-12.1, 0.0006), (-11.8, 0.0), (-11.5, 0.0), (-11.2, 0.001),
         (-10.8, -0.0002), (-10.5, 0.0005), (-10.3, 0.001), (-10.0, -0.0006), (-9.7, 0.0005), (-9.3, 0.0),
         (-9.0, 0.001), (-8.8, 0.0013), (-8.5, 0.0015), (-8.3, 0.002), (-8.0, 0.0033), (-7.8, 0.003),
         (-7.5, 0.002), (-7.2, 0.0006), (-7.0, 0.001), (-6.7, -0.0006), (-6.4, 0.0), (-6.2, 0.0003),
         (-5.9, 0.002), (-5.7, 0.004), (-5.5, 0.0085), (-5.4, 0.0106), (-5.2, 0.010), (-4.9, 0.0106),
         (-4.7, 0.0095), (-4.5, 0.0099), (-4.3, 0.008), (-4.2, 0.0075), (-4.0, 0.0095), (-3.9, 0.0106),
         (-3.6, 0.0105), (-3.4, 0.011), (-3.2, 0.0095), (-3.1, 0.0099), (-2.9, 0.0092), (-2.7, 0.0087),
         (-2.4, 0.0048), (-2.2, 0.001), (-1.9, -0.003), (-1.6, -0.007), (-1.4, -0.0106), (-1.1, -0.014),
         (-0.9, -0.016), (-0.6, -0.018), (-0.45, -0.0185), (-0.33, -0.018), (-0.2, -0.0215), (0.07, -0.0223),
         (0.25, -0.021), (0.4, -0.0207), (0.7, -0.0188), (1.05, -0.0137), (1.3, -0.010), (1.55, -0.0075),
         (1.8, -0.004), (2.05, -0.0006), (2.4, 0.004), (2.7, 0.0064), (3.0, 0.0083), (3.2, 0.0095),
         (3.4, 0.011), (3.6, 0.0105), (3.85, 0.0106), (4.1, 0.0095), (4.35, 0.0087), (4.6, 0.008),
         (4.85, 0.0075), (5.1, 0.0068), (5.3, 0.0064), (5.55, 0.0075), (5.8, 0.0072), (6.0, 0.006),
         (6.2, 0.0048), (6.45, 0.002), (6.65, -0.0006), (6.9, -0.002), (7.15, -0.0037), (7.5, -0.0048),
         (7.8, -0.003), (8.05, 0.0), (8.3, 0.002), (8.6, 0.0045), (8.85, 0.0048), (9.1, 0.0052),
         (9.3, 0.0045), (9.5, 0.0056), (9.8, 0.0037), (10.05, 0.0048), (10.3, 0.0045), (10.6, 0.004),
         (10.9, 0.001), (11.15, -0.001), (11.4, -0.003), (11.7, -0.004), (11.9, -0.0045), (12.15, -0.0045),
         (12.3, -0.005), (12.4, -0.0083), (12.5, -0.004), (12.8, -0.0025), (13.0, -0.004), (13.2, -0.0033),
         (13.45, -0.0045), (13.7, -0.0052), (13.95, -0.0065), (14.2, -0.0075), (14.45, -0.008), (14.7, -0.009),
         (14.9, -0.0085), (15.2, -0.0075), (15.4, -0.008), (15.55, -0.0083), (15.75, -0.006), (15.9, -0.003),
         (16.0, 0.0035), (16.2, 0.0064), (16.4, 0.0085), (16.5, 0.0099), (16.75, 0.009), (17.0, 0.0083),
         (17.25, 0.0078), (17.5, 0.0068), (17.75, 0.006), (18.0, 0.0056), (18.2, 0.0048), (18.35, 0.004),
         (18.55, 0.002), (18.7, 0.001), (18.95, -0.001), (19.2, -0.003), (19.35, -0.0035), (19.5, -0.004),
         (19.65, -0.003), (19.8, -0.002), (20.0, 0.0002)]
f_mix = [(-20, 0.001), (-19.5, -0.0005), (-19.0, -0.002), (-18.5, -0.0035), (-17.9, -0.0043), (-17.2, -0.0045),
         (-16.5, -0.0038), (-15.8, -0.0022), (-15.1, -0.0005), (-14.5, 0.0004), (-13.8, 0.0007), (-13.2, 0.0003),
         (-12.5, -0.0008), (-11.8, -0.0018), (-11.0, -0.0021), (-10.3, -0.0012), (-9.6, 0.001), (-9.0, 0.0035),
         (-8.5, 0.0046), (-8.2, 0.0048), (-7.7, 0.0035), (-7.2, 0.0015), (-6.7, 0.0006), (-6.2, 0.0015),
         (-5.6, 0.005), (-5.0, 0.009), (-4.4, 0.012), (-3.7, 0.0131), (-3.2, 0.012), (-2.7, 0.007),
         (-2.2, -0.001), (-1.7, -0.009), (-1.2, -0.016), (-0.7, -0.020), (-0.2, -0.0215), (0.3, -0.019),
         (0.8, -0.012), (1.3, -0.003), (1.8, 0.005), (2.4, 0.010), (3.0, 0.012), (3.6, 0.0126),
         (4.2, 0.011), (4.8, 0.009), (5.4, 0.0075), (5.9, 0.0065), (6.5, 0.0045), (7.1, 0.002),
         (7.8, 0.0), (8.4, -0.001), (9.0, -0.0014), (9.6, -0.001), (10.2, 0.0), (10.8, 0.0012),
         (11.3, 0.0014), (11.8, 0.0008), (12.4, -0.0012), (13.0, -0.004), (13.6, -0.006), (14.2, -0.0078),
         (14.8, -0.0085), (15.3, -0.007), (15.8, -0.003), (16.3, 0.001), (16.8, 0.004), (17.4, 0.0062),
         (18.2, 0.0073), (18.7, 0.0068), (19.2, 0.0045), (19.6, 0.0025), (20.0, 0.0)]

panels = [
    ('Bx(mT)', (a_ice, a_vmd, a_mix), (-0.07, 0.13), [-0.05, 0, 0.05, 0.1], '(a)'),
    ('By(mT)', (b_ice, b_vmd, b_mix), (-0.06, 0.08), [-0.06, -0.04, -0.02, 0, 0.02, 0.04, 0.06, 0.08], '(b)'),
    ('Bz(mT)', (c_ice, c_vmd, c_mix), (-0.04, 0.04), [-0.04, -0.02, 0, 0.02, 0.04], '(c)'),
    ('GBx(mT/mm)', (d_ice, d_vmd, d_mix), (-0.07, 0.1), [-0.05, 0, 0.05, 0.1], '(d)'),
    ('GBy(mT/mm)', (e_ice, e_vmd, e_mix), (-0.055, 0.055), [-0.05, 0, 0.05], '(e)'),
    ('GBz(mT/mm)', (f_ice, f_vmd, f_mix), (-0.03, 0.03), [-0.03, -0.02, -0.01, 0, 0.01, 0.02, 0.03], '(f)'),
]

W, H = 1059, 1109
col_x = [(68.6, 476.7), (604.7, 1014.0)]
row_y = [(8.3, 267.0), (384.3, 644.0), (761.7, 1020.0)]
cap_x = [255, 790]
cap_y = [340, 714, 1091]

fig = plt.figure(figsize=(W / 100, H / 100), dpi=100)
fmt = FuncFormatter(lambda v, p: f'{v:g}')

for i, (ylab, series, ylim, yticks, cap) in enumerate(panels):
    col, row = i // 3, i % 3
    x0, x1 = col_x[col]
    y0, y1 = row_y[row]
    ax = fig.add_axes([x0 / W, 1 - y1 / H, (x1 - x0) / W, (y1 - y0) / H])
    for pts, name, c in zip(series, names, colors):
        arr = np.array(pts)
        arr = arr[np.argsort(arr[:, 0])]
        ax.plot(arr[:, 0], arr[:, 1], color=c, lw=1.6, label=name)
    ax.set_xlim(-20, 20)
    ax.set_ylim(*ylim)
    ax.set_xticks([-20, -10, 0, 10, 20])
    ax.set_yticks(yticks)
    ax.yaxis.set_major_formatter(fmt)
    ax.grid(True, color='#d9d9d9', lw=1.0)
    ax.set_axisbelow(True)
    ax.tick_params(direction='in', top=True, right=True, length=4, width=1.0,
                   labelsize=12, color='#262626')
    ax.tick_params(axis='x', pad=6.5)
    ax.tick_params(axis='y', pad=3.5)
    for s in ax.spines.values():
        s.set_color('#262626')
        s.set_linewidth(1.3)
    ax.set_xlabel('Detection position (mm)', fontsize=13.3, va='center')
    ax.xaxis.set_label_coords(0.5, -0.145)
    ax.set_ylabel(ylab, fontsize=13.3, va='center')
    ax.yaxis.set_label_coords(-0.1225 if col == 0 else -0.126, 0.5)
    ax.legend(loc='upper left', bbox_to_anchor=(0.587, 0.954), frameon=False, fontsize=12.4,
              handlelength=1.28, handletextpad=0.12, labelspacing=0.2, borderpad=0,
              borderaxespad=0)
    fig.text(cap_x[col] / W, 1 - cap_y[row] / H, cap, ha='center', va='center', fontsize=19.5)

fig.savefig('out.png', dpi=100)
